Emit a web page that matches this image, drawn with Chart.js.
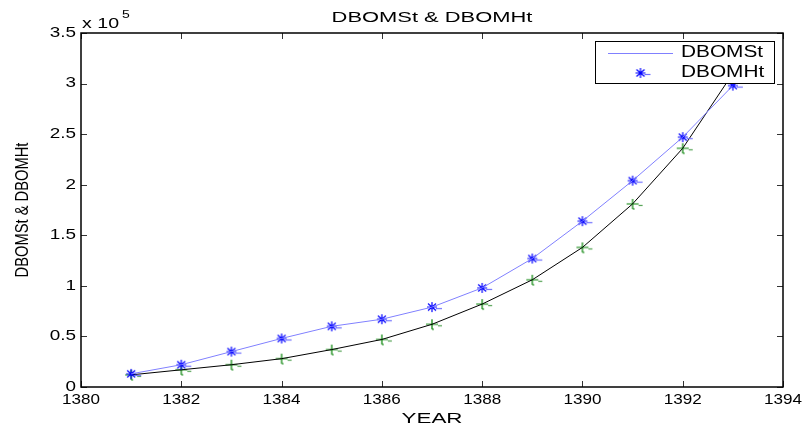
<!DOCTYPE html>
<html><head><meta charset="utf-8">
<script src="https://cdn.jsdelivr.net/npm/chart.js@4.4.1/dist/chart.umd.min.js"></script>
<style>html,body{margin:0;padding:0;background:#fff;} #wrap{width:807px;height:424px;}</style>
</head><body><div id="wrap"><canvas id="c" width="807" height="424"></canvas></div>
<script>
// ---- data ----
const years = [1381, 1382, 1383, 1384, 1385, 1386, 1387, 1388, 1389, 1390, 1391, 1392, 1393];
// upper curve: light-blue line with blue star markers
const upperSeries = [13000, 22000, 35000, 48000, 60000, 67000, 79000, 98000, 127000, 164000, 204000, 247000, 298000];
// lower curve: black line with green plus markers
const lowerSeries = [12000, 17000, 22000, 28000, 37000, 47000, 62000, 82000, 106000, 138000, 181000, 236000, 310000];
const xTickValues = [1380, 1382, 1384, 1386, 1388, 1390, 1392, 1394];
const yTickValues = [0, 50000, 100000, 150000, 200000, 250000, 300000, 350000];
const yTickLabels = ['0', '0.5', '1', '1.5', '2', '2.5', '3', '3.5'];
const legendLabels = ['DBOMSt', 'DBOMHt'];
const titleText = 'DBOMSt & DBOMHt';
const xTitle = 'YEAR';
const yTitle = 'DBOMSt & DBOMHt';
const exponentBase = 'x 10';
const exponentPower = '5';

const FAM = "'Liberation Sans', Arial, Helvetica, sans-serif";
Chart.defaults.font.family = FAM;
Chart.defaults.color = '#000';

const canvas = document.getElementById('c');
const ctx0 = canvas.getContext('2d');
// horizontally stretched text (the reference image is stretched sideways)
ctx0.__sx = 1; ctx0.__sy = 1;
ctx0.fillText = function (t, x, y) {
  const P = CanvasRenderingContext2D.prototype.fillText;
  if (this.__sx === 1 && this.__sy === 1) return P.call(this, t, x, y);
  this.save();
  this.translate(x, y);
  this.scale(this.__sx, this.__sy);
  P.call(this, t, 0, 0);
  this.restore();
};

function stretch(obj, name, sx, sy) {
  if (!obj || obj['__p' + name]) return;
  const orig = obj[name];
  obj[name] = function (...args) {
    const c = this.ctx;
    const ox = c.__sx, oy = c.__sy;
    c.__sx = sx; c.__sy = sy;
    const r = orig.apply(this, args);
    c.__sx = ox; c.__sy = oy;
    return r;
  };
  obj['__p' + name] = true;
}

function makeCanvas(w, h) {
  const c = document.createElement('canvas');
  c.width = w; c.height = h;
  return c;
}
function seg(g, x1, y1, x2, y2) { g.moveTo(x1, y1); g.lineTo(x2, y2); }

// blue asterisk marker (with the small dash artefact of the reference)
function starMarker() {
  const c = makeCanvas(24, 14), g = c.getContext('2d');
  const cx = 12, cy = 7;
  g.lineWidth = 1.2;
  g.strokeStyle = '#0000ff';
  g.beginPath();
  seg(g, cx - 5, cy, cx + 5, cy);
  seg(g, cx, cy - 5, cx, cy + 5);
  seg(g, cx - 4, cy - 3.5, cx + 4, cy + 3.5);
  seg(g, cx - 4, cy + 3.5, cx + 4, cy - 3.5);
  g.stroke();
  g.strokeStyle = '#7070ff';
  g.beginPath();
  seg(g, cx + 4, cy + 1.5, cx + 10, cy + 1.5);
  g.stroke();
  return c;
}
// green plus marker
function plusMarker() {
  const c = makeCanvas(26, 16), g = c.getContext('2d');
  const cx = 13, cy = 8;
  g.lineWidth = 1.2;
  g.strokeStyle = '#008000';
  g.beginPath();
  seg(g, cx - 6, cy, cx + 6, cy);
  seg(g, cx, cy - 5, cx, cy + 5);
  seg(g, cx, cy + 5, cx + 2, cy + 5);
  g.stroke();
  g.strokeStyle = '#50a050';
  g.beginPath();
  seg(g, cx + 6, cy + 1.5, cx + 10, cy + 1.5);
  g.stroke();
  return c;
}
function lineSample() {
  const c = makeCanvas(65, 4), g = c.getContext('2d');
  g.strokeStyle = '#8080ff'; g.lineWidth = 1;
  g.beginPath(); seg(g, 0, 2.5, 65, 2.5); g.stroke();
  return c;
}
const STAR = starMarker(), PLUS = plusMarker(), LINE = lineSample();

const matlabLook = {
  id: 'matlabLook',
  afterLayout(chart) {
    const xs = chart.scales.x, ys = chart.scales.y;
    stretch(xs, 'drawLabels', 1.22, 1);
    stretch(ys, 'drawLabels', 1.35, 1);
    stretch(xs, 'drawTitle', 1.6, 1);
    stretch(ys, 'drawTitle', 0.98, 1.28);
    stretch(chart.titleBlock, 'draw', 1.46, 1);
    const lg = chart.legend;
    lg.left = 604; lg.top = 41; lg.right = 774; lg.bottom = 100;
    lg.width = lg.right - lg.left; lg.height = lg.bottom - lg.top;
    if (!lg.__hold) {
      const orig = lg.draw;
      lg.draw = function () { if (!this.__allow) return; orig.call(this); };
      lg.__hold = true;
    }
  },
  afterDatasetsDraw(chart) {
    const ctx = chart.ctx, ca = chart.chartArea;
    const xs = chart.scales.x, ys = chart.scales.y;
    ctx.save();
    ctx.strokeStyle = '#333';
    ctx.lineWidth = 1;
    ctx.beginPath();
    xTickValues.forEach(v => {
      const px = Math.round(xs.getPixelForValue(v)) + 0.5;
      ctx.moveTo(px, ca.bottom); ctx.lineTo(px, ca.bottom - 6);
      ctx.moveTo(px, ca.top); ctx.lineTo(px, ca.top + 6);
    });
    yTickValues.forEach(v => {
      const py = Math.round(ys.getPixelForValue(v)) + 0.5;
      ctx.moveTo(ca.left, py); ctx.lineTo(ca.left + 6, py);
      ctx.moveTo(ca.right, py); ctx.lineTo(ca.right - 6, py);
    });
    ctx.stroke();
    ctx.strokeStyle = '#000';
    ctx.lineWidth = 1.5;
    ctx.strokeRect(ca.left, ca.top, ca.right - ca.left, ca.bottom - ca.top);
    // legend frame
    ctx.fillStyle = '#fff';
    ctx.fillRect(595, 41, 179, 42);
    ctx.lineWidth = 1;
    ctx.strokeRect(595.5, 41.5, 179, 42);
    ctx.restore();
    const lg = chart.legend;
    lg.__allow = true;
    ctx.__sx = 1.3;
    lg.draw();
    ctx.__sx = 1;
    lg.__allow = false;
    // exponent label
    ctx.save();
    ctx.fillStyle = '#000';
    ctx.textBaseline = 'middle';
    ctx.textAlign = 'left';
    ctx.font = '14px ' + FAM;
    ctx.__sx = 1.4;
    ctx.fillText(exponentBase, 82, 24);
    ctx.font = '10px ' + FAM;
    ctx.fillText(exponentPower, 122, 15);
    ctx.__sx = 1;
    ctx.restore();
  }
};

new Chart(canvas, {
  type: 'line',
  data: {
    datasets: [
      { label: legendLabels[0], data: years.map((y, i) => ({x: y, y: upperSeries[i]})),
        borderColor: '#8080ff', borderWidth: 1, pointRadius: 0, tension: 0, fill: false },
      { label: legendLabels[1], data: years.map((y, i) => ({x: y, y: upperSeries[i]})),
        showLine: false, pointStyle: STAR, pointRadius: 5, borderColor: '#0000ff' },
      { label: '', data: years.map((y, i) => ({x: y, y: lowerSeries[i]})),
        borderColor: '#000', borderWidth: 1, pointRadius: 0, tension: 0, fill: false },
      { label: '', data: years.map((y, i) => ({x: y, y: lowerSeries[i]})),
        showLine: false, pointStyle: PLUS, pointRadius: 6, borderColor: '#008000' }
    ]
  },
  options: {
    responsive: false,
    animation: false,
    devicePixelRatio: 1,
    events: [],
    layout: { padding: { left: 0, top: 0, right: 24, bottom: 0 } },
    plugins: {
      title: { display: true, text: titleText, fullSize: false, color: '#000',
        font: { size: 15, weight: 'normal' }, padding: { top: 9, bottom: 6 } },
      tooltip: { enabled: false },
      legend: {
        display: true, position: 'chartArea', align: 'start',
        labels: {
          usePointStyle: true, pointStyleWidth: 65, padding: 4,
          font: { size: 16 }, color: '#000',
          generateLabels: () => [
            { text: legendLabels[0], pointStyle: LINE, strokeStyle: '#8080ff', fillStyle: '#8080ff',
              lineWidth: 1, hidden: false, datasetIndex: 0, fontColor: '#000' },
            { text: legendLabels[1], pointStyle: STAR, strokeStyle: '#0000ff', fillStyle: '#0000ff',
              lineWidth: 1, hidden: false, datasetIndex: 1, fontColor: '#000' }
          ]
        }
      }
    },
    scales: {
      x: {
        type: 'linear', min: xTickValues[0], max: xTickValues[xTickValues.length - 1],
        afterBuildTicks: s => { s.ticks = xTickValues.map(v => ({ value: v })); },
        ticks: { callback: v => String(v), font: { size: 14 }, padding: 5, maxRotation: 0, autoSkip: false, color: '#000' },
        grid: { display: false, drawTicks: false }, border: { display: false },
        title: { display: true, text: xTitle, font: { size: 14, lineHeight: 1 }, padding: { top: 0, bottom: -2 }, color: '#000' },
        afterFit: s => { s.height = 37; }
      },
      y: {
        type: 'linear', min: yTickValues[0], max: yTickValues[yTickValues.length - 1],
        afterBuildTicks: s => { s.ticks = yTickValues.map(v => ({ value: v })); },
        ticks: { callback: v => yTickLabels[yTickValues.indexOf(v)], font: { size: 14 }, padding: 5, autoSkip: false, color: '#000' },
        grid: { display: false, drawTicks: false }, border: { display: false },
        title: { display: true, text: yTitle, color: '#000',
          font: { size: 15, lineHeight: 1 },
          padding: { top: 15.5, bottom: 0 } },
        afterFit: s => { s.width = 81; }
      }
    }
  },
  plugins: [matlabLook]
});
</script>
</body></html>
